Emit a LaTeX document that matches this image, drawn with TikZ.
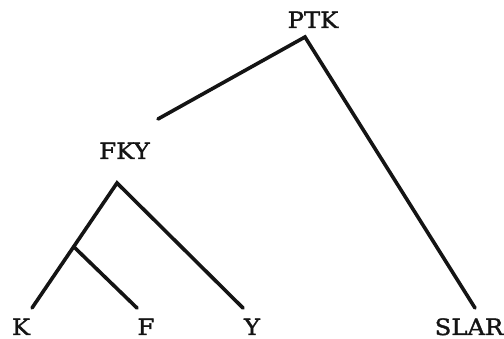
\documentclass[tikz,border=0pt]{standalone}
\usepackage{fontspec}
\setmainfont[FakeStretch=1.08,FakeBold=1.5]{DejaVu Serif}

\begin{document}
\begin{tikzpicture}[x=1pt, y=-1pt,
    label/.style={font=\fontsize{22.5}{26}\selectfont, anchor=base, inner sep=0pt, text=black!92},
    branch/.style={line width=3.6pt, line cap=round, draw=black!92},
]
\fill[white] (0,0) rectangle (504,339);
\useasboundingbox (0,0) rectangle (504,339);

\node[label] (PTK) at (313,28) {PTK};
\node[label] (FKY) at (124.5,159) {FKY};
\node[label] (K) at (21,335) {K};
\node[label] (F) at (146,335) {F};
\node[label] (Y) at (252,335) {Y};
\node[label] (SLAR) at (469,335) {SLAR};

\coordinate (PTKTOP) at (305,37);
\coordinate (STUB) at (158,119);
\coordinate (FKYTOP) at (117,183);
\coordinate (KF) at (74,247);
\coordinate (KEND) at (32,308);
\coordinate (FEND) at (137,308);
\coordinate (YEND) at (243,308);
\coordinate (SLAREND) at (475,308);

\draw[branch] (STUB) -- (PTKTOP) -- (SLAREND);
\draw[branch] (KEND) -- (FKYTOP) -- (YEND);
\draw[branch] (KF) -- (FEND);
\end{tikzpicture}
\end{document}
